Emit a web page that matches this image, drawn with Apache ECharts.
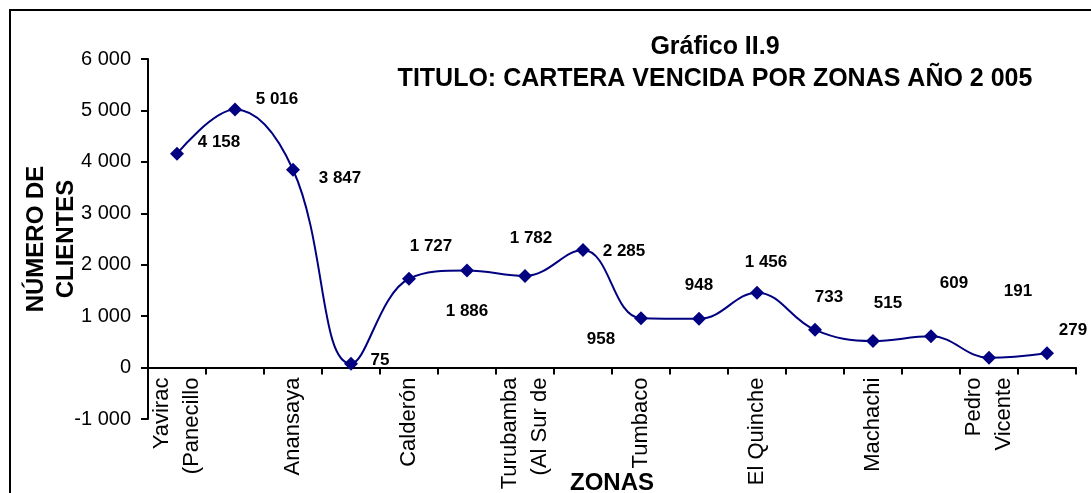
<!DOCTYPE html>
<html lang="es">
<head>
    <meta charset="UTF-8">
    <title>Cartera vencida por zonas</title>
    <script src="https://cdn.jsdelivr.net/npm/echarts@6/dist/echarts.min.js"></script>
    <style>
        html, body { margin: 0; padding: 0; background: #fff; }
        #chart { width: 1091px; height: 493px; }
    </style>
</head>
<body>
<div id="chart"></div>

<script type="text/javascript">
    // zonas (solo se leen las etiquetas visibles, una de cada dos)
    var zonas = ['Yavirac\n(Panecillo', '', 'Anansaya', '', 'Calderón', '', 'Turubamba\n(Al Sur de', '',
        'Tumbaco', '', 'El Quinche', '', 'Machachi', '', 'Pedro\nVicente', ''];
    // número de clientes
    var clientes = [4158, 5016, 3847, 75, 1727, 1886, 1782, 2285, 958, 948, 1456, 733, 515, 609, 191, 279];
    var yTicks = { min: -1000, max: 6000, interval: 1000 };

    // desplazamiento de cada etiqueta de dato respecto al punto (px)
    var labelOffsets = [[42, -11], [42, -10], [47, 9], [29, -3], [22, -32], [0, 41], [6, -38], [41, 1],
        [-40, 21], [0, -34], [9, -30], [14, -33], [15, -38], [23, -53], [29, -66], [26, -23]];

    function fmt(v) {
        // separador de miles con espacio
        return String(v).replace(/\B(?=(\d{3})+(?!\d))/g, ' ');
    }

    var serieData = clientes.map(function (v, i) {
        return { value: v, label: { offset: labelOffsets[i] } };
    });

    var gridTop = 59, gridBottom = 74, chartH = 493;
    // el eje de categorías se dibuja sobre el cero: se sube desde el borde inferior del grid
    var plotH = chartH - gridTop - gridBottom;
    var zeroShift = plotH * (0 - yTicks.min) / (yTicks.max - yTicks.min);

    var myChart = echarts.init(document.getElementById('chart'));
    var option = {
        backgroundColor: '#fff',
        animation: false,
        textStyle: { fontFamily: 'Arial, "Liberation Sans", sans-serif' },
        title: {
            text: 'Gráfico II.9\nTITULO: CARTERA VENCIDA POR ZONAS AÑO 2 005',
            left: 710,
            top: 26,
            textAlign: 'center',
            textStyle: { fontSize: 25, fontWeight: 'bold', color: '#000', lineHeight: 32 }
        },
        graphic: [{
            type: 'rect',
            shape: { x: 10, y: 10, width: 1100, height: 500 },
            style: { fill: 'none', stroke: '#000', lineWidth: 2 },
            silent: true
        }],
        grid: { left: 148, right: 15, top: gridTop, bottom: gridBottom, outerBoundsMode: 'none' },
        xAxis: {
            type: 'category',
            data: zonas,
            offset: -zeroShift,
            name: 'ZONAS',
            nameLocation: 'middle',
            nameGap: 104,
            nameMoveOverlap: false,
            nameTextStyle: { fontSize: 24, fontWeight: 'bold', color: '#000' },
            axisLine: { onZero: false, lineStyle: { color: '#000', width: 2 } },
            axisTick: { show: true, interval: 0, length: 7, lineStyle: { color: '#000', width: 2 } },
            axisLabel: {
                interval: 1,
                rotate: 90,
                margin: 10,
                fontSize: 22,
                lineHeight: 30,
                color: '#000'
            }
        },
        yAxis: {
            type: 'value',
            min: yTicks.min,
            max: yTicks.max,
            interval: yTicks.interval,
            name: 'NÚMERO DE\nCLIENTES',
            nameLocation: 'middle',
            nameRotate: 90,
            nameGap: 67,
            nameMoveOverlap: false,
            nameTextStyle: { fontSize: 24, fontWeight: 'bold', color: '#000', lineHeight: 30 },
            splitLine: { show: false },
            axisLine: { show: true, lineStyle: { color: '#000', width: 2 } },
            axisTick: { show: true, length: 7, lineStyle: { color: '#000', width: 2 } },
            axisLabel: {
                margin: 17,
                fontSize: 20,
                color: '#000',
                formatter: function (v) { return fmt(v); }
            }
        },
        series: [{
            name: 'Clientes',
            type: 'line',
            data: serieData,
            smooth: 0.4,
            symbol: 'diamond',
            symbolSize: 14,
            itemStyle: { color: '#000080' },
            lineStyle: { color: '#000080', width: 2 },
            label: {
                show: true,
                position: 'inside',
                fontSize: 17,
                fontWeight: 'bold',
                color: '#000',
                formatter: function (p) { return fmt(p.value); }
            }
        }]
    };
    myChart.setOption(option);
</script>
</body>
</html>
